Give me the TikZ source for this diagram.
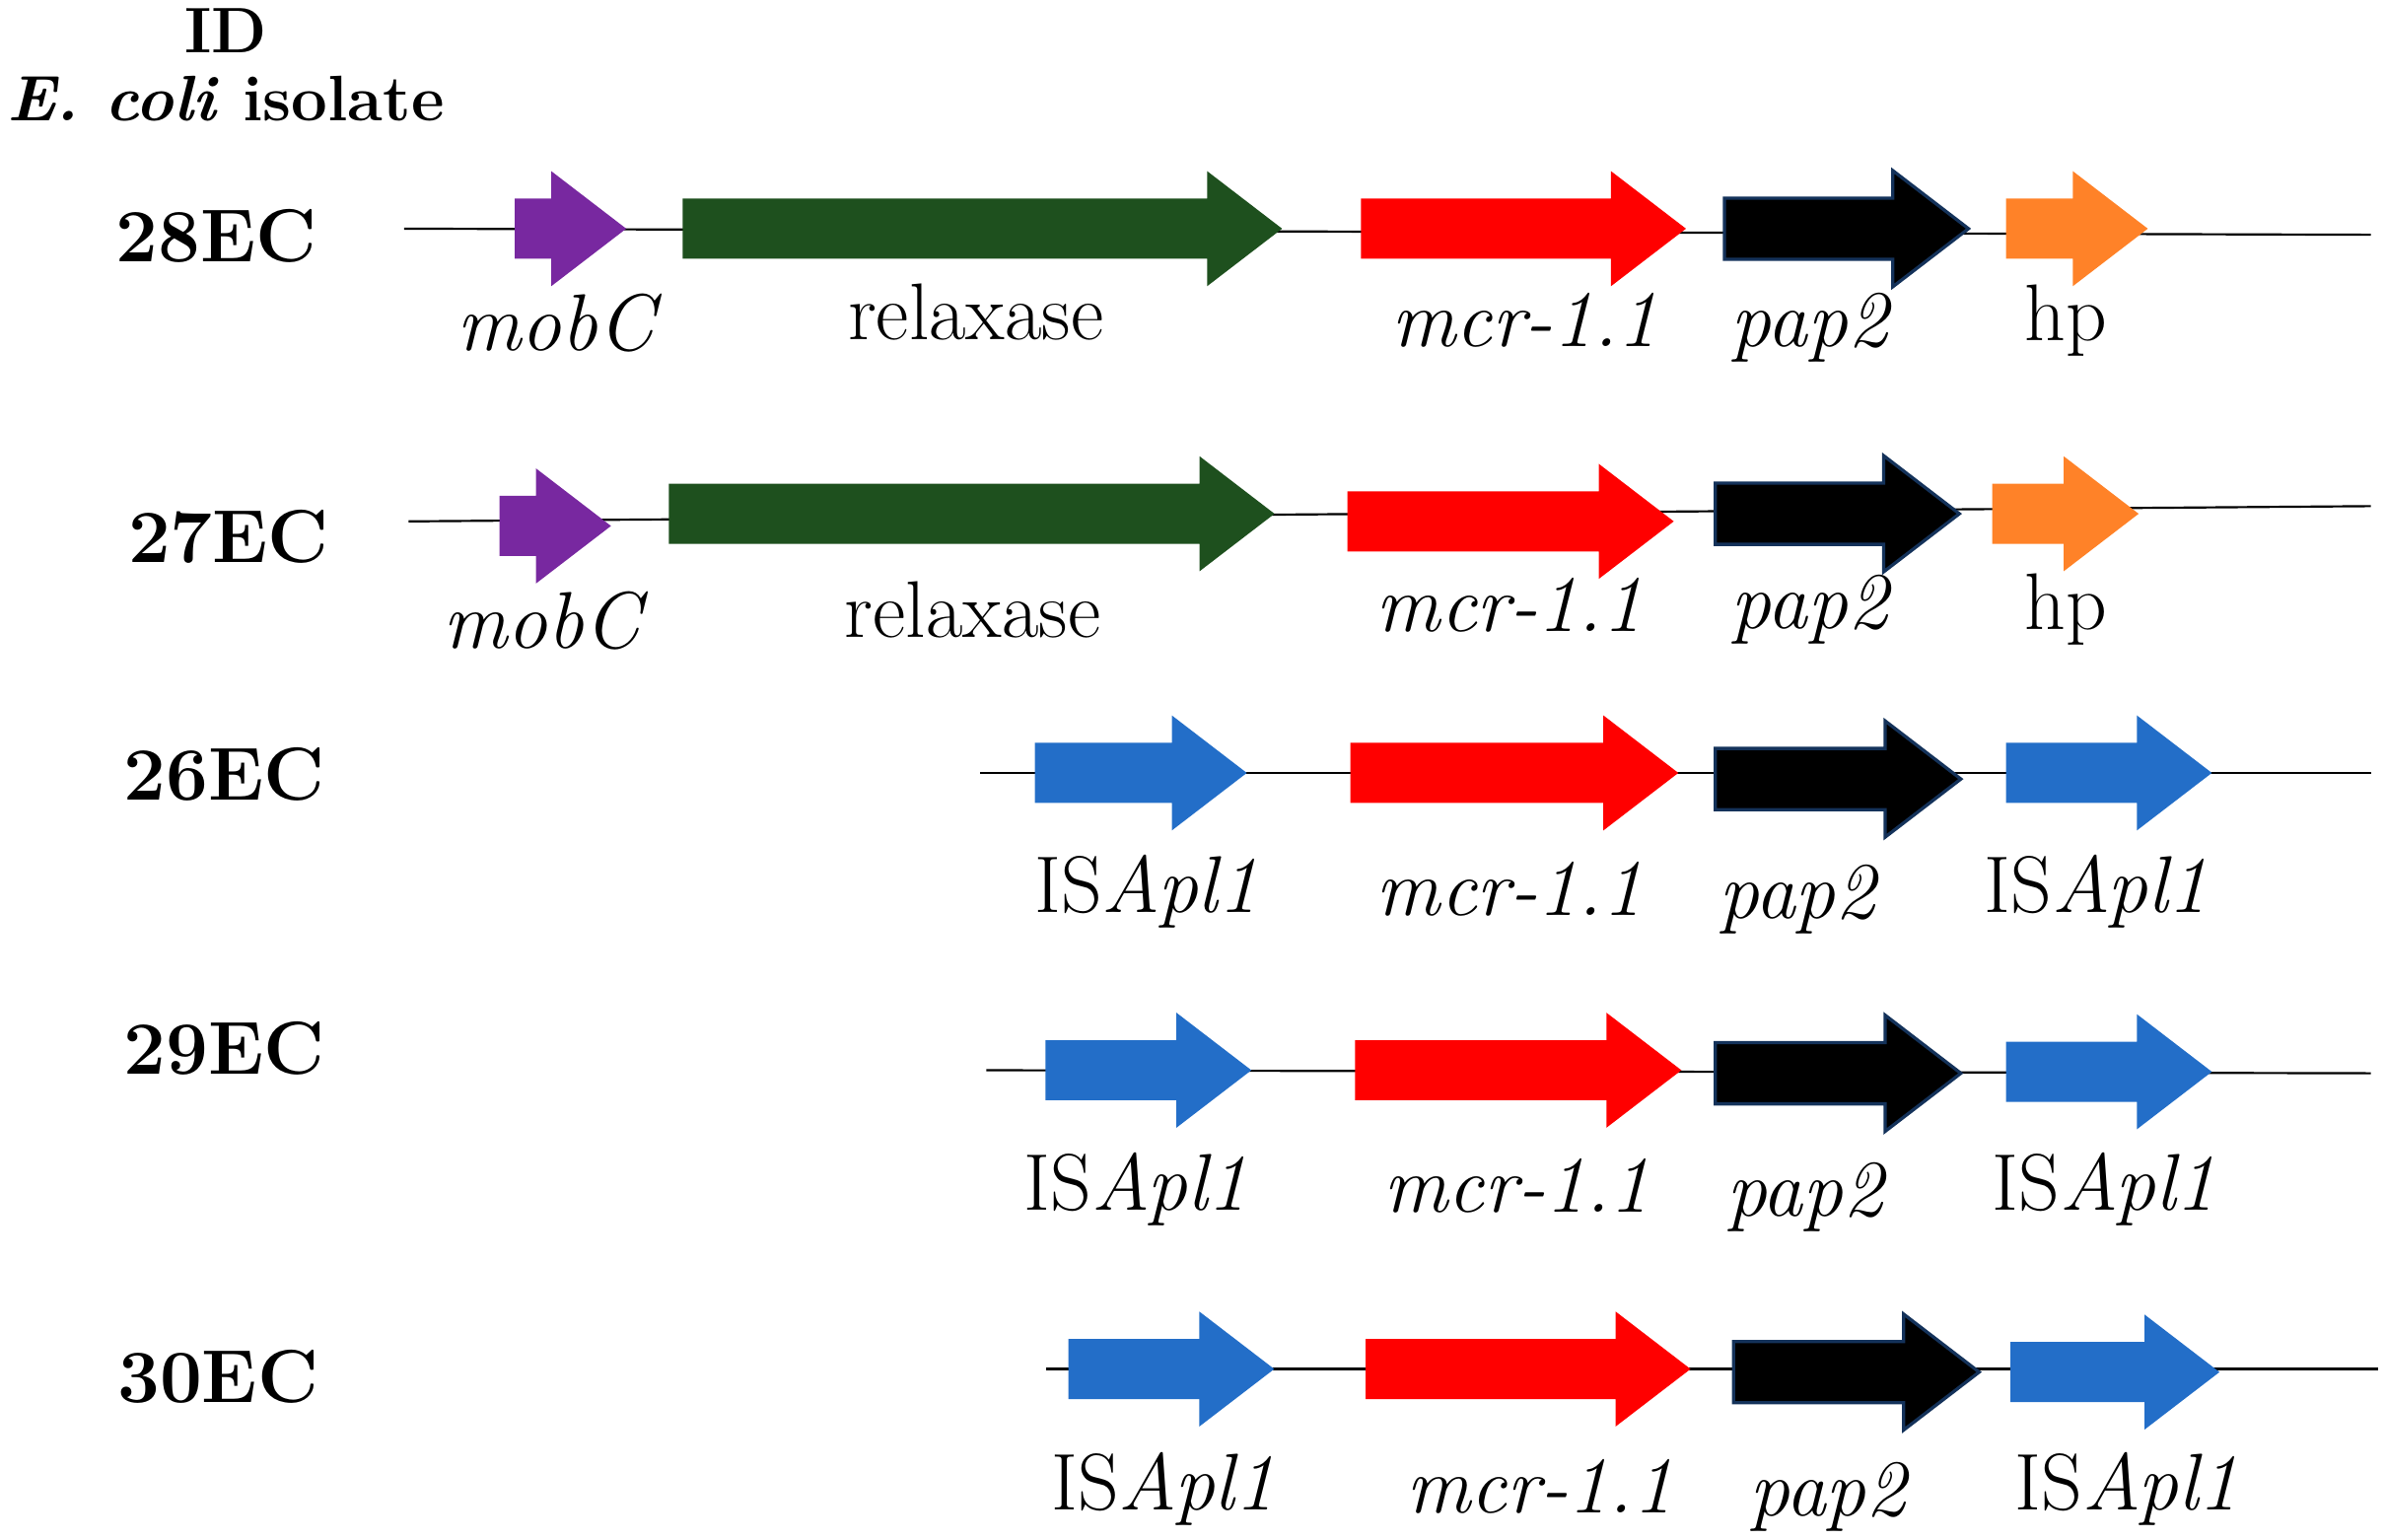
\documentclass[tikz,border=0pt]{standalone}
\usetikzlibrary{shapes.arrows}
\tikzstyle{gene}     = [single arrow, single arrow head extend=0.18cm, single arrow tip angle=75, inner xsep=0pt, inner ysep=0.19cm, text height=0pt, text depth=0pt, anchor=west, draw=none]
\tikzstyle{mob}      = [gene, fill={rgb,255:red,120;green,40;blue,160}]
\tikzstyle{relax}    = [gene, fill={rgb,255:red,30;green,80;blue,30}]
\tikzstyle{mcr}      = [gene, fill=red]
\tikzstyle{pap}      = [gene, fill=black, draw={rgb,255:red,20;green,50;blue,90}, line width=0.6pt]
\tikzstyle{hyp}      = [gene, fill={rgb,255:red,255;green,130;blue,40}]
\tikzstyle{insq}     = [gene, fill={rgb,255:red,35;green,110;blue,200}]
\tikzstyle{lbl}      = [font=\fontsize{15}{17}\selectfont]
\tikzstyle{rowlbl}   = [font=\fontsize{14}{16}\selectfont\bfseries]
\tikzstyle{headlbl}  = [font=\fontsize{12}{14}\selectfont\bfseries, inner sep=0pt]
\begin{document}
\begin{tikzpicture}[x=0.01cm, y=-0.01cm]
        \useasboundingbox (0,0) rectangle (1565,1010);
        % header
        \node (id)     [headlbl] at (148,20)  {ID};
        \node (iso)    [headlbl] at (148,65)  {\textit{E. coli} isolate};
        % 28EC
        \node (r28)    [rowlbl] at (142,155) {28EC};
        \coordinate (s28) at (265,150); \coordinate (e28) at (1555,154);
        \draw (s28) -- (e28);
        \node (mob28)  [mob, minimum height=0.73cm]   at (337,150)  {};
        \node (rel28)  [relax, minimum height=3.93cm] at (447,150)  {};
        \node (mcr28)  [mcr, minimum height=2.13cm]   at (892,150)  {};
        \node (pap28)  [pap, minimum height=1.60cm]   at (1130,150) {};
        \node (hp28)   [hyp, minimum height=0.93cm]   at (1315,150) {};
        \node [lbl] at (367,212)  {\textit{mobC}};
        \node [lbl] at (640,205)  {relaxase};
        \node [lbl] at (1000,210) {\textit{mcr-1.1}};
        \node [lbl] at (1188,215) {\textit{pap2}};
        \node [lbl] at (1355,210) {hp};
        % 27EC
        \node (r27)    [rowlbl] at (150,352) {27EC};
        \coordinate (s27) at (268,342); \coordinate (e27) at (1555,332);
        \draw (s27) -- (e27);
        \node (mob27)  [mob, minimum height=0.73cm]   at (327,345)  {};
        \node (rel27)  [relax, minimum height=3.97cm] at (438,337)  {};
        \node (mcr27)  [mcr, minimum height=2.14cm]   at (883,342)  {};
        \node (pap27)  [pap, minimum height=1.60cm]   at (1124,337) {};
        \node (hp27)   [hyp, minimum height=0.96cm]   at (1306,337) {};
        \node [lbl] at (358,407)  {\textit{mobC}};
        \node [lbl] at (638,400)  {relaxase};
        \node [lbl] at (990,397)  {\textit{mcr-1.1}};
        \node [lbl] at (1188,400) {\textit{pap2}};
        \node [lbl] at (1355,400) {hp};
        % 26EC
        \node (r26)    [rowlbl] at (147,508) {26EC};
        \coordinate (s26) at (643,507); \coordinate (e26) at (1555,507);
        \draw (s26) -- (e26);
        \node (isa26)  [insq, minimum height=1.39cm]  at (678,507)  {};
        \node (mcr26)  [mcr, minimum height=2.15cm]   at (885,507)  {};
        \node (pap26)  [pap, minimum height=1.61cm]   at (1124,511) {};
        \node (isb26)  [insq, minimum height=1.35cm]  at (1315,507) {};
        \node [lbl] at (752,585)  {IS\textit{Apl1}};
        \node [lbl] at (990,583)  {\textit{mcr-1.1}};
        \node [lbl] at (1180,590) {\textit{pap2}};
        \node [lbl] at (1375,585) {IS\textit{Apl1}};
        % 29EC
        \node (r29)    [rowlbl] at (147,688) {29EC};
        \coordinate (s29) at (647,702); \coordinate (e29) at (1555,704);
        \draw (s29) -- (e29);
        \node (isa29)  [insq, minimum height=1.35cm]  at (685,702)  {};
        \node (mcr29)  [mcr, minimum height=2.14cm]   at (888,702)  {};
        \node (pap29)  [pap, minimum height=1.61cm]   at (1124,704) {};
        \node (isb29)  [insq, minimum height=1.35cm]  at (1315,703) {};
        \node [lbl] at (745,780)  {IS\textit{Apl1}};
        \node [lbl] at (995,778)  {\textit{mcr-1.1}};
        \node [lbl] at (1185,785) {\textit{pap2}};
        \node [lbl] at (1380,780) {IS\textit{Apl1}};
        % 30EC
        \node (r30)    [rowlbl] at (143,903) {30EC};
        \coordinate (s30) at (686,898); \coordinate (e30) at (1560,898);
        \draw (s30) -- (e30);
        \node (isa30)  [insq, minimum height=1.35cm]  at (700,898)  {};
        \node (mcr30)  [mcr, minimum height=2.13cm]   at (895,898)  {};
        \node (pap30)  [pap, minimum height=1.61cm]   at (1136,900) {};
        \node (isb30)  [insq, minimum height=1.37cm]  at (1318,900) {};
        \node [lbl] at (763,977)  {IS\textit{Apl1}};
        \node [lbl] at (1010,975) {\textit{mcr-1.1}};
        \node [lbl] at (1200,982) {\textit{pap2}};
        \node [lbl] at (1395,977) {IS\textit{Apl1}};
\end{tikzpicture}
\end{document}
